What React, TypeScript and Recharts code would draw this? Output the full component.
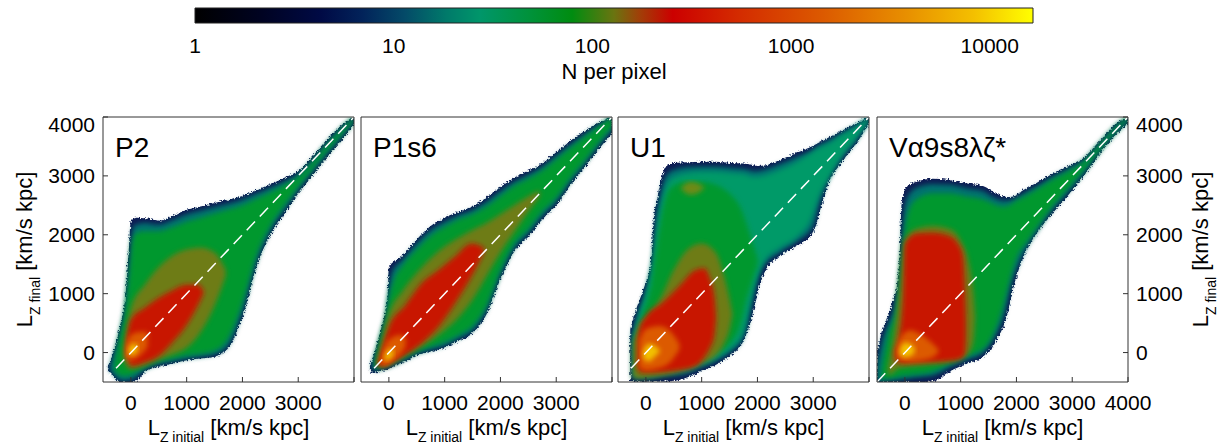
import React from 'react';
import { ComposedChart, Area, XAxis, YAxis, ReferenceLine, ReferenceArea, Label } from 'recharts';

// each band row: [L_Z initial, lowest L_Z final, highest L_Z final] for one density level
type Band = [number, number, number][];

const FONT = '"Liberation Sans", Arial, Helvetica, sans-serif';

const lzTicks = [0, 1000, 2000, 3000, 4000];
const colorTicks = [1, 10, 100, 1000, 10000];
const colorRange = [1, 16500];

// ---------- P2 ----------
const p2Rim: Band = [
  [-420, -290, -250], [-380, -340, -180], [-300, -420, 60], [-200, -500, 420], [-100, -500, 950],
  [-40, -500, 1700], [0, -500, 2250], [100, -480, 2290], [250, -330, 2280], [500, -240, 2240],
  [750, -185, 2320], [1000, -130, 2420], [1250, -100, 2480], [1500, -70, 2540], [1750, 80, 2600],
  [2000, 600, 2660], [2250, 1450, 2760], [2500, 2000, 2860], [2750, 2350, 2960], [3000, 2700, 3080],
  [3250, 3000, 3320], [3500, 3300, 3600], [3750, 3580, 3840], [4000, 3870, 4000],
];
const p2Teal: Band = [
  [-380, -290, -240], [-300, -380, 0], [-200, -460, 350], [-100, -480, 850], [-20, -460, 1600],
  [50, -440, 2150], [250, -290, 2200], [500, -200, 2170], [750, -150, 2250], [1000, -100, 2350],
  [1250, -70, 2410], [1500, -30, 2470], [1750, 130, 2530], [2000, 700, 2600], [2250, 1530, 2700],
  [2500, 2070, 2800], [2750, 2420, 2900], [3000, 2760, 3030], [3250, 3060, 3270], [3500, 3360, 3550],
  [3750, 3630, 3800], [4000, 3910, 4000],
];
const p2Green: Band = [
  [-300, -300, -200], [-200, -380, 250], [-100, -400, 700], [-30, -390, 1300], [30, -360, 1900],
  [100, -320, 2030], [250, -240, 2060], [500, -150, 2060], [750, -100, 2130], [1000, -50, 2220],
  [1250, -20, 2290], [1500, 30, 2360], [1750, 250, 2430], [2000, 850, 2500], [2250, 1650, 2610],
  [2500, 2150, 2720], [2750, 2500, 2840], [3000, 2820, 2980], [3250, 3110, 3230], [3500, 3400, 3510],
  [3750, 3670, 3770], [4000, 3940, 4000],
];
const p2Olive: Band = [
  [-120, -150, 100], [0, -280, 750], [250, -220, 1150], [500, -120, 1450], [750, -30, 1650],
  [1000, 80, 1750], [1250, 350, 1780], [1500, 800, 1700], [1700, 1300, 1400],
];
const p2Red: Band = [
  [-80, 0, 250], [0, -230, 560], [250, -170, 760], [500, -60, 930], [750, 180, 1060],
  [1000, 470, 1150], [1200, 800, 1150], [1300, 1000, 1050],
];
const p2Orange: Band = [[-100, -80, 80], [0, -130, 300], [150, -60, 350], [300, 100, 350]];
const p2Yellow: Band = [[-40, -20, 60], [40, -40, 150], [120, 40, 130]];

// ---------- P1s6 ----------
const p1Rim: Band = [
  [-340, -300, -230], [-300, -345, -120], [-210, -330, 157], [-130, -310, 440], [-60, -295, 722],
  [-20, -285, 1000], [0, -275, 1450], [250, -170, 1650], [500, -50, 1920], [750, 20, 2150],
  [1000, 80, 2290], [1250, 200, 2390], [1500, 330, 2485], [1750, 650, 2630], [2000, 1250, 2810],
  [2250, 1720, 2970], [2500, 1965, 3090], [2750, 2260, 3210], [3000, 2500, 3400], [3250, 2840, 3590],
  [3500, 3130, 3760], [3750, 3440, 3900], [4000, 3720, 4000],
];
const p1Teal: Band = [
  [-300, -290, -180], [-210, -300, 100], [-130, -280, 380], [-60, -265, 650], [0, -245, 1100],
  [60, -225, 1380], [250, -140, 1580], [500, -20, 1850], [750, 50, 2080], [1000, 120, 2220],
  [1250, 240, 2330], [1500, 380, 2420], [1750, 720, 2560], [2000, 1320, 2740], [2250, 1780, 2900],
  [2500, 2030, 3020], [2750, 2320, 3150], [3000, 2560, 3340], [3250, 2900, 3530], [3500, 3190, 3700],
  [3750, 3500, 3860], [4000, 3780, 4000],
];
const p1Green: Band = [
  [-250, -260, -120], [-150, -260, 250], [-50, -230, 600], [0, -210, 900], [100, -170, 1250],
  [250, -100, 1480], [500, 20, 1750], [750, 100, 1980], [1000, 180, 2130], [1250, 300, 2260],
  [1500, 450, 2350], [1750, 800, 2480], [2000, 1400, 2660], [2250, 1850, 2830], [2500, 2100, 2950],
  [2750, 2400, 3090], [3000, 2630, 3280], [3250, 2960, 3470], [3500, 3250, 3650], [3750, 3560, 3830],
  [4000, 3840, 4000],
];
const p1Olive: Band = [
  [-200, -230, -150], [-100, -220, 300], [0, -180, 650], [250, -60, 1050], [500, 60, 1350],
  [750, 200, 1600], [1000, 380, 1800], [1250, 600, 1950], [1500, 900, 2080], [1750, 1300, 2200],
  [2000, 1700, 2350], [2250, 2050, 2500], [2500, 2400, 2650], [2700, 2650, 2750],
];
const p1Red: Band = [
  [-200, -230, -170], [-100, -240, 150], [0, -200, 440], [290, -40, 800], [590, 160, 1180],
  [890, 440, 1400], [1185, 835, 1630], [1480, 1290, 1850], [1700, 1700, 1780],
];
const p1Orange: Band = [[-150, -200, -100], [-50, -220, 150], [50, -150, 250], [200, -30, 300], [300, 100, 250]];
const p1Yellow: Band = [[-80, -130, -80], [0, -120, 50], [80, -40, 60]];

// ---------- U1 ----------
const u1Rim: Band = [
  [-280, -480, 400], [-180, -490, 720], [-90, -490, 950], [0, -490, 1200], [80, -490, 1460],
  [110, -490, 1850], [140, -490, 2250], [200, -490, 2590], [260, -490, 2870], [350, -490, 3150],
  [500, -480, 3220], [750, -420, 3230], [1000, -310, 3240], [1250, -210, 3240], [1500, -60, 3220],
  [1750, 200, 3210], [1900, 600, 3190], [2000, 1000, 3170], [2150, 1410, 3180], [2400, 1640, 3270],
  [2700, 1810, 3390], [3000, 2040, 3510], [3130, 2420, 3580], [3250, 2820, 3640], [3500, 3220, 3760],
  [3750, 3520, 3880], [4000, 3880, 4000],
];
const u1Teal: Band = [
  [-250, -440, 300], [-150, -450, 650], [-50, -450, 900], [50, -440, 1250], [130, -440, 1700],
  [170, -430, 2200], [250, -420, 2650], [400, -400, 3050], [600, -380, 3130], [750, -350, 3150],
  [1000, -250, 3160], [1250, -150, 3160], [1500, 0, 3140], [1750, 270, 3120], [1850, 600, 3100],
  [1950, 1050, 3080], [2100, 1450, 3100], [2400, 1700, 3200], [2700, 1880, 3320], [3000, 2150, 3450],
  [3100, 2500, 3520], [3250, 2900, 3590], [3500, 3280, 3720], [3750, 3580, 3850], [4000, 3920, 4000],
];
const u1Sea: Band = [
  [-220, -400, 250], [-100, -400, 700], [0, -390, 1000], [120, -380, 1500], [200, -370, 2100],
  [300, -350, 2600], [450, -330, 2950], [750, -280, 3050], [1000, -190, 3070], [1250, -90, 3070],
  [1500, 60, 3050], [1750, 350, 3030], [1850, 750, 3000], [1950, 1150, 2980], [2100, 1520, 3000],
  [2400, 1780, 3100], [2700, 1960, 3230], [2950, 2250, 3380], [3100, 2650, 3470], [3300, 3000, 3560],
  [3500, 3330, 3690], [3750, 3620, 3820], [4000, 3950, 4000],
];
const u1Green: Band = [
  [-180, -350, 200], [-50, -340, 650], [100, -320, 1150], [200, -300, 1800], [300, -280, 2400],
  [450, -250, 2800], [700, -200, 2900], [1000, -100, 2900], [1250, 0, 2850], [1500, 150, 2700],
  [1700, 500, 2450], [1800, 900, 2200], [1900, 1200, 1900], [2000, 1500, 1600],
];
const u1Olive: Band = [
  [-230, -420, 150], [-150, -440, 400], [0, -430, 600], [250, -400, 900], [500, -350, 1400],
  [750, -280, 1750], [1000, -180, 1850], [1250, -50, 1700], [1400, 150, 1300], [1500, 400, 900],
  [1550, 650, 650],
];
const u1OliveTop: Band = [[620, 2790, 2790], [800, 2680, 2900], [980, 2740, 2850], [1050, 2800, 2800]];
const u1Red: Band = [
  [-150, -260, 250], [-100, -330, 450], [0, -340, 610], [290, -330, 840], [590, -300, 1120],
  [890, -230, 1400], [1050, -80, 1430], [1150, 80, 1250], [1230, 300, 950], [1260, 600, 600],
];
const u1Orange: Band = [[-120, -250, 200], [0, -300, 400], [250, -260, 450], [450, -150, 350], [600, 50, 150]];
const u1Yellow: Band = [[-50, -100, 20], [50, -150, 150], [150, -80, 120], [250, 20, 40]];

// ---------- Va9s8lz* ----------
const vRim: Band = [
  [-500, -500, -60], [-450, -500, 210], [-330, -500, 550], [-210, -500, 890], [-140, -500, 1150],
  [-90, -500, 1700], [-60, -500, 2500], [30, -500, 2810], [210, -500, 2900], [500, -490, 2950],
  [800, -320, 2930], [1100, -190, 2870], [1400, -70, 2830], [1640, 200, 2700], [1820, 600, 2640],
  [1950, 1120, 2650], [2060, 1460, 2720], [2180, 1740, 2790], [2360, 2020, 2880], [2600, 2310, 3010],
  [2900, 2640, 3150], [3200, 2990, 3300], [3500, 3380, 3600], [3800, 3720, 3900], [4000, 3890, 4000],
];
const vTeal: Band = [
  [-500, -500, -200], [-420, -490, 150], [-300, -480, 480], [-180, -470, 820], [-110, -460, 1200],
  [-50, -450, 1900], [0, -440, 2500], [100, -430, 2720], [300, -410, 2830], [500, -390, 2860],
  [800, -250, 2850], [1100, -130, 2790], [1400, 0, 2740], [1600, 250, 2630], [1780, 650, 2580],
  [1900, 1150, 2590], [2050, 1530, 2660], [2200, 1820, 2740], [2400, 2100, 2840], [2600, 2370, 2960],
  [2900, 2700, 3110], [3200, 3040, 3270], [3500, 3420, 3570], [3800, 3750, 3870], [4000, 3920, 4000],
];
const vGreen: Band = [
  [-420, -460, -300], [-300, -440, 300], [-150, -420, 750], [-50, -400, 1700], [50, -390, 2350],
  [200, -370, 2600], [500, -320, 2700], [800, -180, 2700], [1100, -60, 2650], [1400, 60, 2600],
  [1600, 350, 2520], [1750, 750, 2480], [1870, 1200, 2500], [2000, 1600, 2580], [2200, 1900, 2680],
  [2400, 2170, 2790], [2600, 2430, 2910], [2900, 2760, 3060], [3200, 3090, 3230], [3500, 3450, 3540],
  [3800, 3780, 3850], [4000, 3950, 4000],
];
const vOlive: Band = [
  [-300, -400, -250], [-200, -330, 300], [-100, -260, 1000], [0, -250, 1900], [200, -230, 2100],
  [500, -200, 2150], [800, -160, 2100], [1000, -100, 1900], [1150, 0, 1500], [1230, 200, 1000],
  [1260, 600, 600],
];
const vRed: Band = [
  [-180, -100, 50], [-100, -170, 300], [-30, -180, 1000], [0, -180, 1850], [200, -170, 2020],
  [500, -160, 2040], [800, -140, 1980], [950, -120, 1850], [1040, -80, 1650], [1080, 0, 1000],
  [1095, 250, 550],
];
const vOrange: Band = [[-150, -80, 60], [-50, -140, 300], [100, -150, 380], [300, -130, 300], [500, -80, 150], [600, 0, 50]];
const vYellow: Band = [[-90, -40, 60], [0, -80, 170], [100, -60, 150], [180, 20, 60]];

const layerOrder = ['rim', 'teal', 'sea', 'green', 'olive', 'oliveTop', 'red', 'orange', 'yellow'];
const layerColors: Record<string, string> = {
  rim: '#0b1a52',
  teal: '#067270',
  sea: '#009a68',
  green: '#04982f',
  olive: '#6e7c14',
  oliveTop: '#6e8a14',
  red: '#c81600',
  orange: '#dc5a00',
  yellow: '#f2c000',
};

const cbarStops: [number, string][] = [
  [0, '#000000'], [0.08, '#000322'], [0.15, '#000a45'], [0.2, '#02235a'], [0.25, '#044a68'],
  [0.3, '#007a6a'], [0.34, '#00966a'], [0.4, '#00923a'], [0.45, '#008c10'], [0.5, '#6a7410'],
  [0.53, '#a04008'], [0.57, '#cc0000'], [0.65, '#d42c00'], [0.75, '#dc5a00'], [0.85, '#e89000'],
  [0.93, '#f4c000'], [1, '#ffff00'],
];

interface PanelDef {
  id: string;
  name: string;
  left: number;
  layers: Record<string, Band>;
}

const panels: PanelDef[] = [
  { id: 'p2', name: 'P2', left: 103, layers: { rim: p2Rim, teal: p2Teal, green: p2Green, olive: p2Olive, red: p2Red, orange: p2Orange, yellow: p2Yellow } },
  { id: 'p1s6', name: 'P1s6', left: 361, layers: { rim: p1Rim, teal: p1Teal, green: p1Green, olive: p1Olive, red: p1Red, orange: p1Orange, yellow: p1Yellow } },
  { id: 'u1', name: 'U1', left: 618, layers: { rim: u1Rim, teal: u1Teal, sea: u1Sea, green: u1Green, olive: u1Olive, oliveTop: u1OliveTop, red: u1Red, orange: u1Orange, yellow: u1Yellow } },
  { id: 'v', name: 'V\u03b19s8\u03bb\u03b6*', left: 877, layers: { rim: vRim, teal: vTeal, green: vGreen, olive: vOlive, red: vRed, orange: vOrange, yellow: vYellow } },
];

function buildRows(layers: Record<string, Band>) {
  const byX = new Map<number, any>();
  Object.entries(layers).forEach(([key, band]) => {
    band.forEach(([x, lo, hi]) => {
      const row = byX.get(x) ?? { x };
      row[key] = [lo, hi];
      byX.set(x, row);
    });
  });
  return Array.from(byX.values()).sort((a, b) => a.x - b.x);
}

const XTitle = ({ viewBox }: any) => {
  const cx = viewBox.x + viewBox.width / 2;
  const by = viewBox.y + 53;
  return (
    <text x={cx} y={by} textAnchor="middle" fontSize={22} fontFamily={FONT} fill="#000">
      L<tspan fontSize={14} dy={7}>Z initial</tspan>
      <tspan dy={-7}>{' [km/s kpc]'}</tspan>
    </text>
  );
};

const YTitle = ({ cx, cy }: { cx: number; cy: number }) => (
  <text x={cx} y={cy} transform={`rotate(-90 ${cx} ${cy})`} textAnchor="middle" fontSize={22} fontFamily={FONT} fill="#000">
    L<tspan fontSize={14} dy={8}>Z final</tspan>
    <tspan dy={-8}>{' [km/s kpc]'}</tspan>
  </text>
);

const YTick = (props: any) => {
  const { x, y, payload, textAnchor } = props;
  const shift = payload.value === 4000 ? 8 : 0;
  return (
    <text x={x} y={y + shift} dy="0.355em" textAnchor={textAnchor} fontSize={21} fontFamily={FONT} fill="#000">
      {payload.value}
    </text>
  );
};

const axisStroke = { stroke: '#333' };

function DensityPanel({ panel, index }: { panel: PanelDef; index: number }) {
  const rows = buildRows(panel.layers);
  const first = index === 0;
  const last = index === panels.length - 1;
  const blur = `soft-${panel.id}`;
  const rough = `rough-${panel.id}`;
  return (
    <ComposedChart width={446} height={338} data={rows} margin={{ top: 0, right: 0, bottom: 0, left: 0 }}>
      <defs>
        <filter id={blur} x="-20%" y="-20%" width="140%" height="140%">
          <feGaussianBlur stdDeviation={2.6} />
        </filter>
        <filter id={rough} x="-5%" y="-5%" width="110%" height="110%">
          <feTurbulence type="fractalNoise" baseFrequency="0.55" numOctaves={2} seed={index + 3} result="noise" />
          <feDisplacementMap in="SourceGraphic" in2="noise" scale={5} xChannelSelector="R" yChannelSelector="G" />
        </filter>
      </defs>
      {layerOrder
        .filter((k) => panel.layers[k])
        .map((k) => (
          <Area
            key={k}
            dataKey={k}
            type="monotone"
            fill={layerColors[k]}
            fillOpacity={1}
            stroke="none"
            connectNulls
            dot={false}
            activeDot={false}
            isAnimationActive={false}
            filter={k === 'rim' ? `url(#${rough})` : `url(#${blur})`}
          />
        ))}
      <ReferenceLine
        segment={[{ x: -500, y: -500 }, { x: 4000, y: 4000 }]}
        stroke="#ffffff"
        strokeWidth={1.5}
        strokeDasharray="12 7"
        ifOverflow="hidden"
      />
      <XAxis
        dataKey="x"
        type="number"
        domain={[-500, 4000]}
        ticks={lzTicks}
        interval={0}
        allowDataOverflow
        height={63}
        tickSize={-5}
        tickMargin={18}
        tickFormatter={(v: number) => (v === 4000 && !last ? '' : String(v))}
        tick={{ fill: '#000', fontSize: 21, fontFamily: FONT }}
        axisLine={axisStroke}
        tickLine={axisStroke}
      >
        <Label content={(p: any) => <XTitle viewBox={p.viewBox} />} />
      </XAxis>
      <XAxis
        xAxisId="top"
        orientation="top"
        dataKey="x"
        type="number"
        domain={[-500, 4000]}
        ticks={lzTicks}
        interval={0}
        allowDataOverflow
        height={10}
        tickSize={-5}
        tick={false}
        axisLine={axisStroke}
        tickLine={axisStroke}
      />
      <YAxis
        type="number"
        domain={[-500, 4000]}
        ticks={lzTicks}
        interval={0}
        allowDataOverflow
        width={100}
        tickSize={-5}
        tickMargin={13}
        tick={first ? (p: any) => <YTick {...p} /> : false}
        axisLine={axisStroke}
        tickLine={axisStroke}
      >
        {first && <Label content={(p: any) => <YTitle cx={p.viewBox.x + 28.5} cy={p.viewBox.y + p.viewBox.height / 2} />} />}
      </YAxis>
      <YAxis
        yAxisId="r"
        orientation="right"
        type="number"
        domain={[-500, 4000]}
        ticks={lzTicks}
        interval={0}
        allowDataOverflow
        width={95}
        tickSize={-5}
        tickMargin={13}
        tick={last ? (p: any) => <YTick {...p} /> : false}
        axisLine={axisStroke}
        tickLine={axisStroke}
      >
        {last && <Label content={(p: any) => <YTitle cx={p.viewBox.x + 80} cy={p.viewBox.y + p.viewBox.height / 2} />} />}
      </YAxis>
    </ComposedChart>
  );
}

function ColorBar() {
  const data = colorRange.map((v) => ({ v }));
  return (
    <ComposedChart width={938} height={95} data={data} margin={{ top: 8, right: 50, bottom: 0, left: 50 }}>
      <defs>
        <linearGradient id="cbar" x1="0" y1="0" x2="1" y2="0">
          {cbarStops.map(([o, c]) => (
            <stop key={o} offset={o} stopColor={c} />
          ))}
        </linearGradient>
      </defs>
      <XAxis
        dataKey="v"
        type="number"
        scale="log"
        domain={colorRange}
        ticks={colorTicks}
        interval={0}
        allowDataOverflow
        height={72}
        tickSize={0}
        tickMargin={15}
        axisLine={false}
        tickLine={false}
        tick={{ fill: '#000', fontSize: 21, fontFamily: FONT }}
      >
        <Label
          content={(p: any) => (
            <text
              x={p.viewBox.x + p.viewBox.width / 2}
              y={p.viewBox.y + 56}
              textAnchor="middle"
              fontSize={22}
              fontFamily={FONT}
              fill="#000"
            >
              N per pixel
            </text>
          )}
        />
      </XAxis>
      <YAxis hide type="number" domain={[0, 1]} allowDataOverflow />
      <ReferenceArea x1={colorRange[0]} x2={colorRange[1]} y1={0} y2={1} fill="url(#cbar)" fillOpacity={1} stroke="#222" strokeWidth={1} ifOverflow="visible" />
    </ComposedChart>
  );
}

export default function App() {
  return (
    <div style={{ position: 'absolute', left: 0, top: 0, width: 1223, height: 445, background: '#fff', overflow: 'hidden' }}>
      <div style={{ position: 'absolute', left: 145, top: 0 }}>
        <ColorBar />
      </div>
      {panels.map((p, i) => (
        <div key={p.id} style={{ position: 'absolute', left: p.left - 100, top: 107 }}>
          <DensityPanel panel={p} index={i} />
        </div>
      ))}
      {panels.map((p) => (
        <div
          key={`${p.id}-name`}
          style={{
            position: 'absolute',
            left: p.left + 12,
            top: 134,
            fontFamily: FONT,
            fontSize: 28,
            lineHeight: '28px',
            color: '#000',
            whiteSpace: 'nowrap',
          }}
        >
          {p.name}
        </div>
      ))}
    </div>
  );
}
